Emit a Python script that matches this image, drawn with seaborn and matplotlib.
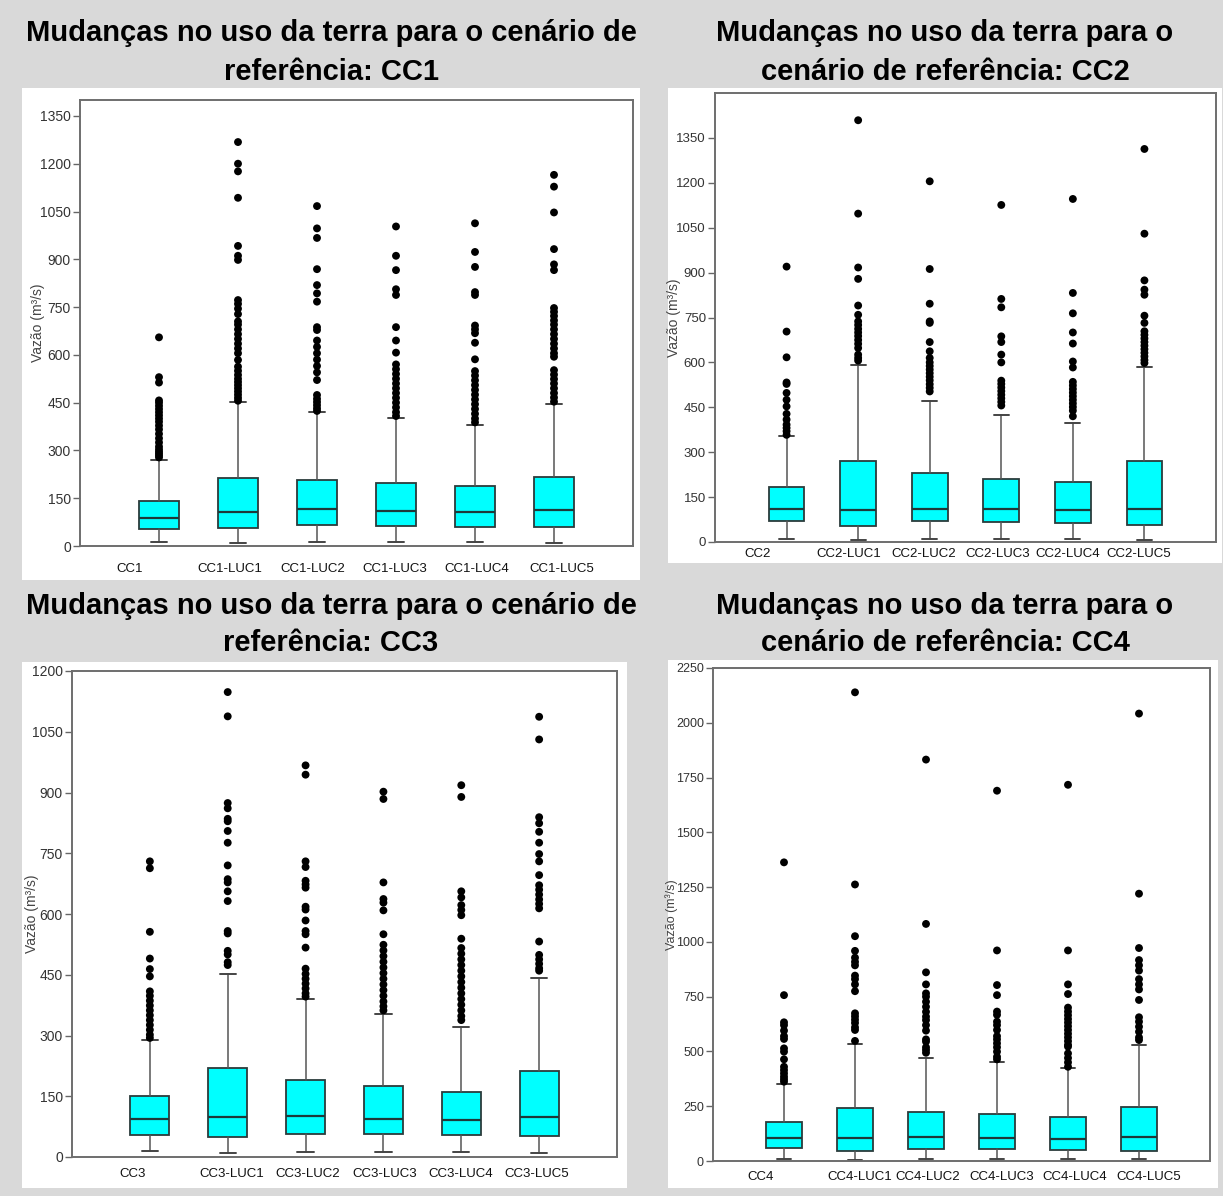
import numpy as np
import pandas as pd
import matplotlib
matplotlib.use("Agg")
import matplotlib.pyplot as plt
import seaborn as sns
from matplotlib.patches import Rectangle

# ---------------- data ----------------
titles = [
    ("Mudanças no uso da terra para o cenário de", "referência: CC1"),
    ("Mudanças no uso da terra para o", "cenário de referência: CC2"),
    ("Mudanças no uso da terra para o cenário de", "referência: CC3"),
    ("Mudanças no uso da terra para o", "cenário de referência: CC4"),
]
ylabel = "Vazão (m³/s)"

cc1_labels = ["CC1", "CC1-LUC1", "CC1-LUC2", "CC1-LUC3", "CC1-LUC4", "CC1-LUC5"]
cc1_q1 = [52, 55, 66, 63, 60, 61]
cc1_med = [89, 108, 116, 111, 106, 113]
cc1_q3 = [141, 214, 207, 199, 189, 216]
cc1_lo = [14, 10, 12, 12, 12, 10]
cc1_hi = [270, 451, 420, 402, 381, 447]
cc1_fliers = [
    [655, 530, 513, 457, 450, 440, 430, 420, 410, 400, 390, 378, 366, 352, 338, 325, 312, 303, 296, 290, 284, 278],
    [1268, 1200, 1176, 1093, 942, 911, 898, 772, 760, 745, 728, 705, 695, 680, 665, 650, 635, 620, 605, 584,
     563, 550, 537, 525, 515, 505, 495, 485, 475, 465, 456],
    [1067, 997, 967, 869, 819, 793, 767, 687, 678, 645, 625, 605, 585, 565, 545, 521, 474, 462, 452, 442, 432, 424],
    [1003, 911, 866, 806, 788, 687, 645, 607, 570, 555, 540, 525, 510, 495, 480, 465, 450, 435, 420, 408],
    [1013, 923, 876, 797, 788, 692, 680, 668, 638, 586, 549, 535, 520, 505, 490, 475, 460, 445, 430, 415, 400, 388],
    [1165, 1128, 1047, 932, 884, 866, 747, 735, 722, 708, 695, 680, 665, 650, 635, 620, 605, 594,
     552, 538, 524, 510, 495, 480, 466, 453],
]

cc2_labels = ["CC2", "CC2-LUC1", "CC2-LUC2", "CC2-LUC3", "CC2-LUC4", "CC2-LUC5"]
cc2_q1 = [69, 53, 69, 68, 64, 56]
cc2_med = [109, 107, 110, 110, 106, 111]
cc2_q3 = [184, 269, 231, 211, 201, 269]
cc2_lo = [11, 8, 10, 10, 10, 8]
cc2_hi = [354, 592, 472, 425, 396, 586]
cc2_fliers = [
    [920, 703, 617, 533, 528, 498, 475, 453, 428, 409, 392, 381, 370, 358],
    [1409, 1097, 917, 879, 790, 759, 737, 725, 712, 700, 688, 675, 662, 648, 626, 615, 606],
    [1205, 912, 796, 737, 732, 668, 637, 615, 600, 588, 576, 564, 552, 540, 527, 515, 503],
    [1126, 812, 784, 687, 668, 626, 600, 539, 528, 516, 504, 492, 480, 468, 456],
    [1146, 832, 764, 700, 663, 603, 583, 535, 523, 511, 499, 487, 475, 463, 451, 439, 420],
    [1313, 1030, 874, 843, 826, 756, 732, 704, 692, 680, 668, 656, 644, 632, 620, 608, 598],
]

cc3_labels = ["CC3", "CC3-LUC1", "CC3-LUC2", "CC3-LUC3", "CC3-LUC4", "CC3-LUC5"]
cc3_q1 = [55, 49, 58, 57, 54, 53]
cc3_med = [95, 98, 101, 95, 91, 100]
cc3_q3 = [151, 219, 189, 175, 160, 213]
cc3_lo = [15, 10, 13, 13, 13, 10]
cc3_hi = [290, 452, 390, 352, 320, 443]
cc3_fliers = [
    [730, 713, 556, 490, 464, 446, 409, 398, 386, 374, 362, 350, 338, 326, 314, 302, 294],
    [1148, 1088, 874, 861, 835, 829, 805, 776, 720, 686, 678, 656, 632, 558, 552, 509, 500, 481, 474],
    [967, 944, 730, 716, 682, 673, 665, 618, 611, 584, 558, 550, 517, 465, 452, 440, 428, 416, 404, 396],
    [902, 884, 678, 637, 628, 609, 550, 524, 510, 496, 482, 468, 454, 440, 426, 412, 398, 384, 372, 362],
    [918, 889, 656, 641, 622, 610, 597, 539, 516, 502, 488, 474, 460, 446, 432, 418, 404, 390, 376, 362, 348, 338],
    [1087, 1031, 839, 824, 803, 776, 748, 730, 696, 671, 660, 648, 636, 625, 614, 532, 499, 488, 477, 466, 460],
]

cc4_labels = ["CC4", "CC4-LUC1", "CC4-LUC2", "CC4-LUC3", "CC4-LUC4", "CC4-LUC5"]
cc4_q1 = [61, 46, 53, 53, 49, 47]
cc4_med = [103, 103, 108, 106, 100, 110]
cc4_q3 = [178, 243, 222, 213, 202, 245]
cc4_lo = [8, 5, 8, 8, 8, 8]
cc4_hi = [353, 534, 472, 450, 423, 529]
cc4_fliers = [
    [1363, 757, 633, 620, 595, 570, 557, 514, 499, 464, 430, 415, 400, 385, 373, 362],
    [2139, 1262, 1026, 959, 928, 909, 893, 846, 830, 806, 775, 674, 660, 645, 630, 610, 598, 548],
    [1832, 1082, 861, 806, 765, 750, 727, 704, 681, 659, 643, 620, 595, 555, 545, 519, 507, 494],
    [1690, 961, 803, 757, 682, 667, 636, 620, 598, 570, 555, 537, 519, 499, 476, 464],
    [1717, 961, 806, 762, 700, 682, 665, 648, 632, 615, 598, 581, 564, 547, 530, 522, 491, 470, 450, 430],
    [2042, 1220, 972, 917, 893, 869, 830, 806, 783, 735, 656, 636, 613, 590, 564, 552],
]

yticks1 = list(range(0, 1351, 150))
yticks2 = list(range(0, 1351, 150))
yticks3 = list(range(0, 1201, 150))
yticks4 = list(range(0, 2251, 250))

# ---------------- style / layout ----------------
sns.set_style("white")
plt.rcParams["font.family"] = ["Liberation Sans", "DejaVu Sans"]

W, H = 1223, 1196
fig = plt.figure(figsize=(W / 100, H / 100), dpi=100, facecolor="#d9d9d9")

panels = [
    dict(labels=cc1_labels, q1=cc1_q1, med=cc1_med, q3=cc1_q3, lo=cc1_lo, hi=cc1_hi, fl=cc1_fliers,
         yt=yticks1, ylim=(0, 1400), card=(22, 88, 640, 580), axb=(80, 100, 633, 546),
         tpos=[0.63, 1.9, 2.94, 3.99, 5.02, 6.1], tpad=12.0, ylab_x=38, title_x=331, title_y=(41, 80),
         ysize=10, lsize=10),
    dict(labels=cc2_labels, q1=cc2_q1, med=cc2_med, q3=cc2_q3, lo=cc2_lo, hi=cc2_hi, fl=cc2_fliers,
         yt=yticks2, ylim=(0, 1500), card=(668, 88, 1222, 563), axb=(715, 93, 1216, 542),
         tpos=[0.6, 1.87, 2.92, 3.95, 4.93, 5.92], tpad=4.6, ylab_x=674, title_x=945, title_y=(41, 80),
         ysize=9.5, lsize=10),
    dict(labels=cc3_labels, q1=cc3_q1, med=cc3_med, q3=cc3_q3, lo=cc3_lo, hi=cc3_hi, fl=cc3_fliers,
         yt=yticks3, ylim=(0, 1200), card=(22, 662, 627, 1188), axb=(72, 671, 617, 1157),
         tpos=[0.78, 2.05, 3.03, 4.02, 4.99, 5.97], tpad=7.7, ylab_x=32, title_x=331, title_y=(614, 651),
         ysize=10, lsize=10),
    dict(labels=cc4_labels, q1=cc4_q1, med=cc4_med, q3=cc4_q3, lo=cc4_lo, hi=cc4_hi, fl=cc4_fliers,
         yt=yticks4, ylim=(0, 2250), card=(668, 660, 1218, 1188), axb=(713, 668, 1210, 1161),
         tpos=[0.67, 2.07, 3.03, 4.07, 5.1, 6.13], tpad=7.0, ylab_x=672, title_x=945, title_y=(614, 651),
         ysize=9, lsize=9),
]

for i, p in enumerate(panels):
    l, t, r, b = p["card"]
    fig.add_artist(Rectangle((l / W, 1 - b / H), (r - l) / W, (b - t) / H,
                             transform=fig.transFigure, facecolor="white",
                             edgecolor="none", zorder=-1))
    al, at, ar, ab = p["axb"]
    ax = fig.add_axes([al / W, 1 - ab / H, (ar - al) / W, (ab - at) / H])
    ax.set_facecolor("white")

    positions = np.arange(1, len(p["labels"]) + 1)
    stats = [dict(label=lab, q1=a, med=m, q3=c, whislo=lo, whishi=hi, fliers=[])
             for lab, a, m, c, lo, hi in zip(p["labels"], p["q1"], p["med"], p["q3"], p["lo"], p["hi"])]
    ax.bxp(stats, positions=positions, widths=0.5, capwidths=0.21, patch_artist=True,
           showfliers=False, manage_ticks=False,
           boxprops=dict(facecolor="#00ffff", edgecolor="#2b3b3b", linewidth=1.3),
           medianprops=dict(color="#1d3a3a", linewidth=1.6),
           whiskerprops=dict(color="#555555", linewidth=1.1),
           capprops=dict(color="#444444", linewidth=1.4))

    df = pd.DataFrame({
        "pos": np.concatenate([[pos] * len(f) for pos, f in zip(positions, p["fl"])]),
        "value": np.concatenate([f for f in p["fl"]]),
    })
    sns.scatterplot(data=df, x="pos", y="value", ax=ax, color="black", s=32,
                    edgecolor="none", linewidth=0, legend=False, zorder=4)

    ax.set_xlim(0, 7)
    ax.set_ylim(*p["ylim"])
    ax.set_yticks(p["yt"])
    ax.set_yticklabels([str(v) for v in p["yt"]])
    ax.set_xticks(p["tpos"])
    ax.set_xticklabels(p["labels"])
    ax.set_xlabel("")
    ax.tick_params(axis="y", left=True, length=5, width=1.0, color="#666666",
                   labelsize=p["ysize"], labelcolor="#333333", pad=1.5)
    ax.tick_params(axis="x", bottom=False, length=0, labelsize=9.5,
                   labelcolor="#111111", pad=p["tpad"])
    for s in ax.spines.values():
        s.set_visible(True)
        s.set_color("#6e6e6e")
        s.set_linewidth(1.4)

    ax.set_ylabel(ylabel, fontsize=p["lsize"], color="#444444")
    ax.yaxis.set_label_coords((p["ylab_x"] - al) / (ar - al), 0.5)
    ax.yaxis.label.set_verticalalignment("center")

    for line, yy in zip(titles[i], p["title_y"]):
        fig.text(p["title_x"] / W, 1 - yy / H, line, ha="center", va="baseline",
                 fontsize=21, fontweight="bold", color="black")

fig.savefig("out.png", dpi=100, facecolor=fig.get_facecolor())
